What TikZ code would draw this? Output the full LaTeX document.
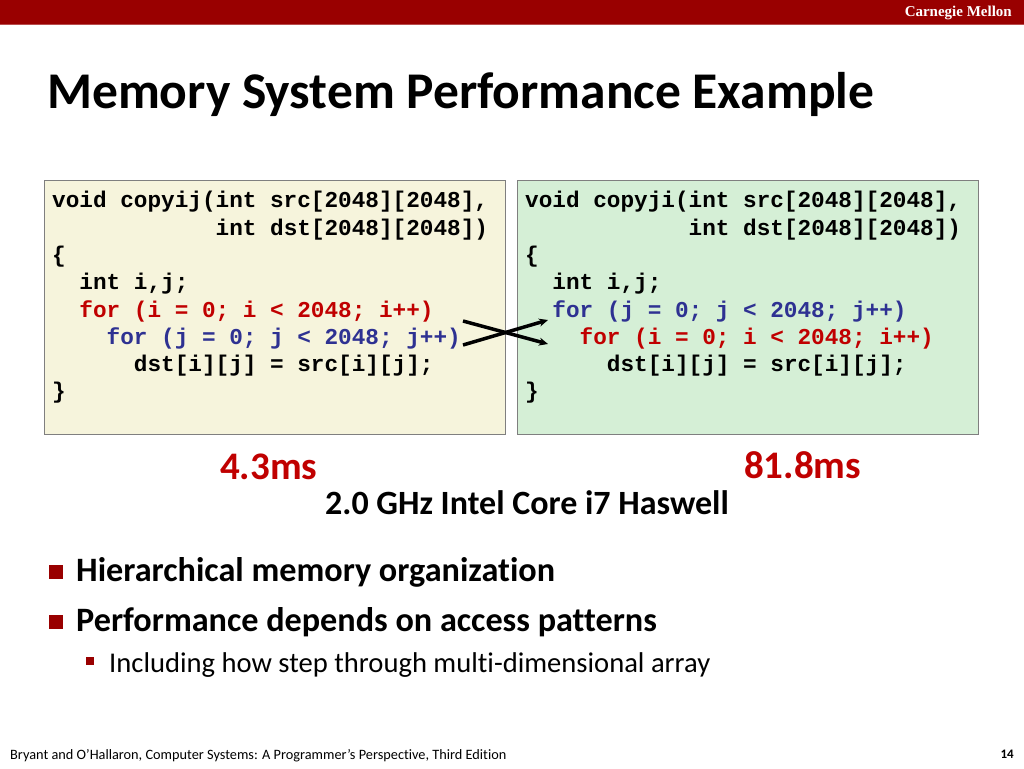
\documentclass[tikz,border=0pt]{standalone}
\usepackage{fontspec}
\setmainfont{Carlito}[Ligatures=NoCommon]
\newfontfamily\codefont{Liberation Mono}
\newfontfamily\cmufont{Liberation Serif}
\usetikzlibrary{arrows.meta}
\definecolor{cmured}{HTML}{990000}
\definecolor{codered}{HTML}{C00000}
\definecolor{codeblue}{HTML}{2E3192}
\definecolor{boxyellow}{HTML}{F6F4DC}
\definecolor{boxgreen}{HTML}{D5EFD6}
\definecolor{boxedge}{HTML}{7F7F7F}
\tikzset{
  codebox/.style={draw=boxedge, line width=1pt},
  codeline/.style={anchor=west, inner sep=0pt, font=\codefont\bfseries\fontsize{22.7}{27}\selectfont},
  bigtxt/.style={anchor=west, inner sep=0pt, font=\bfseries\fontsize{34.2}{40}\selectfont},
  bulletsq/.style={fill=cmured, draw=none, inner sep=0pt},
  crossarrow/.style={line width=3.5pt, -{Stealth[length=9pt,width=8pt]}},
}
\newcommand{\indentby}[1]{\hspace*{#1\fontcharwd\font`x}}
\begin{document}
\begin{tikzpicture}[x=1pt,y=-1pt]
\useasboundingbox (0,0) rectangle (1024,768);
\fill[white] (0,0) rectangle (1024,768);
% header
\fill[cmured] (0,0) rectangle (1024,24);
\fill[cmured!70] (0,24) rectangle (1024,25.5);
\node[anchor=east, inner sep=0pt, text=white, font=\cmufont\bfseries\fontsize{15}{18}\selectfont] (cmu) at (1012,13) {Carnegie Mellon};
% title
\node[anchor=west, inner sep=0pt, font=\bfseries\fontsize{51.5}{60}\selectfont] (title) at (47,94) {Memory System Performance Example};
% boxes
\draw[codebox, fill=boxyellow] (44,180) rectangle (505,434);
\draw[codebox, fill=boxgreen] (517,180) rectangle (978,434);
% left code
\node[codeline] (l1) at (52,202) {void copyij(int src[2048][2048],};
\node[codeline] (l2) at (52,229.3) {\indentby{12}int dst[2048][2048])};
\node[codeline] (l3) at (52,256.6) {\{};
\node[codeline] (l4) at (52,283.9) {\indentby{2}int i,j;};
\node[codeline, text=codered] (l5) at (52,311.2) {\indentby{2}for (i = 0; i < 2048; i++)};
\node[codeline, text=codeblue] (l6) at (52,338.5) {\indentby{4}for (j = 0; j < 2048; j++)};
\node[codeline] (l7) at (52,365.8) {\indentby{6}dst[i][j] = src[i][j];};
\node[codeline] (l8) at (52,393.1) {\}};
% right code
\node[codeline] (r1) at (525,202) {void copyji(int src[2048][2048],};
\node[codeline] (r2) at (525,229.3) {\indentby{12}int dst[2048][2048])};
\node[codeline] (r3) at (525,256.6) {\{};
\node[codeline] (r4) at (525,283.9) {\indentby{2}int i,j;};
\node[codeline, text=codeblue] (r5) at (525,311.2) {\indentby{2}for (j = 0; j < 2048; j++)};
\node[codeline, text=codered] (r6) at (525,338.5) {\indentby{4}for (i = 0; i < 2048; i++)};
\node[codeline] (r7) at (525,365.8) {\indentby{6}dst[i][j] = src[i][j];};
\node[codeline] (r8) at (525,393.1) {\}};
% crossing arrows
\coordinate (a1s) at (463,321);
\coordinate (a1e) at (548,344);
\coordinate (a2s) at (463,345);
\coordinate (a2e) at (548,320);
\draw[crossarrow] (a1s) -- (a1e);
\draw[crossarrow] (a2s) -- (a2e);
% timings
\node[anchor=west, inner sep=0pt, text=codered, font=\bfseries\fontsize{39}{46}\selectfont] (t1) at (220,467) {4.3ms};
\node[anchor=west, inner sep=0pt, text=codered, font=\bfseries\fontsize{39}{46}\selectfont] (t2) at (744,465) {81.8ms};
\node[anchor=west, inner sep=0pt, font=\bfseries\fontsize{34}{40}\selectfont] (cpu) at (325,503) {2.0 GHz Intel Core i7 Haswell};
% bullets
\node[bulletsq, minimum width=14pt, minimum height=14pt] (b1) at (56,572) {};
\node[bigtxt] (bt1) at (76,572) {Hierarchical memory organization};
\node[bulletsq, minimum width=14pt, minimum height=14pt] (b2) at (56,622) {};
\node[bigtxt] (bt2) at (76,622) {Performance depends on access patterns};
\node[bulletsq, minimum width=8pt, minimum height=8pt] (b3) at (90,661) {};
\node[anchor=west, inner sep=0pt, font=\fontsize{28.6}{34}\selectfont] (bt3) at (109,665) {Including how step through multi-dimensional array};
% footer
\node[anchor=west, inner sep=0pt, font=\fontsize{14.3}{17}\selectfont] (foot) at (10,756) {Bryant and O’Hallaron, Computer Systems: A Programmer’s Perspective, Third Edition};
\node[anchor=east, inner sep=0pt, font=\bfseries\fontsize{13}{16}\selectfont] (page) at (1014,754) {14};
\end{tikzpicture}
\end{document}
